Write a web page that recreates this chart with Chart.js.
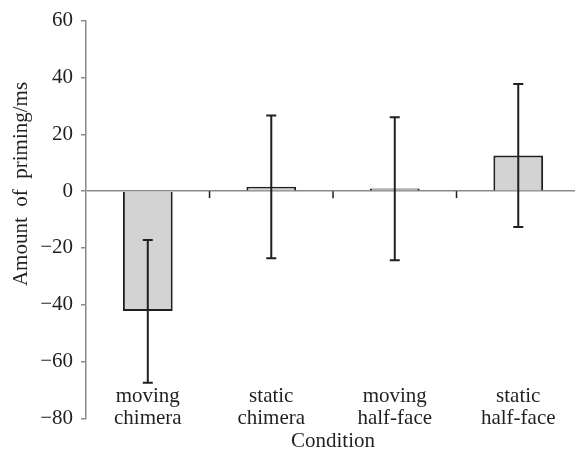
<!DOCTYPE html>
<html>
<head>
<meta charset="utf-8">
<script src="https://cdn.jsdelivr.net/npm/chart.js@4"></script>
<style>
  html, body { margin: 0; padding: 0; background: #fff; overflow: hidden; }
  #wrap { width: 575px; height: 453px; overflow: hidden; }
  #box { width: 582px; height: 453px; }
</style>
</head>
<body>
<div id="wrap"><div id="box"><canvas id="chart"></canvas></div></div>
<script>
// data
const conditions = [["moving", "chimera"], ["static", "chimera"], ["moving", "half-face"], ["static", "half-face"]];
const priming = [-42.2, 1.5, 0.9, 12.5];
const errLow = [-67.4, -23.6, -24.3, -12.6];
const errHigh = [-17.2, 26.6, 26.0, 37.7];
const yTicks = [-80, -60, -40, -20, 0, 20, 40, 60];

const FONT = "'Liberation Serif', 'DejaVu Serif', serif";
const AXIS_GREY = "#8a8a8a";
const INK = "#231f20";

// error bars + category tick marks on the zero line + rotated y title
const extras = {
    id: "extras",
    afterDatasetsDraw(chart) {
        const ctx = chart.ctx;
        const x = chart.scales.x;
        const y = chart.scales.y;
        const zero = y.getPixelForValue(0);

        ctx.save();

        // tick marks between categories
        ctx.strokeStyle = INK;
        ctx.lineWidth = 1.5;
        for (let i = 0; i < conditions.length - 1; i++) {
            const px = (x.getPixelForValue(i) + x.getPixelForValue(i + 1)) / 2;
            ctx.beginPath();
            ctx.moveTo(px, zero);
            ctx.lineTo(px, zero + 7);
            ctx.stroke();
        }

        // error bars
        ctx.strokeStyle = INK;
        ctx.lineWidth = 2;
        priming.forEach((v, i) => {
            const px = x.getPixelForValue(i);
            const lo = y.getPixelForValue(errLow[i]);
            const hi = y.getPixelForValue(errHigh[i]);
            ctx.beginPath();
            ctx.moveTo(px, lo);
            ctx.lineTo(px, hi);
            ctx.moveTo(px - 5, lo);
            ctx.lineTo(px + 5, lo);
            ctx.moveTo(px - 5, hi);
            ctx.lineTo(px + 5, hi);
            ctx.stroke();
        });

        // y axis title
        ctx.fillStyle = INK;
        ctx.font = "21px " + FONT;
        ctx.textAlign = "center";
        ctx.textBaseline = "middle";
        ctx.translate(21, 184);
        ctx.rotate(-Math.PI / 2);
        ctx.fillText("Amount  of  priming/ms", 0, 0);

        ctx.restore();
    }
};

new Chart(document.getElementById("chart"), {
    type: "bar",
    data: {
        labels: conditions,
        datasets: [{
            data: priming,
            backgroundColor: "#d3d3d3",
            borderColor: INK,
            borderWidth: 2,
            barPercentage: 0.403,
            categoryPercentage: 1
        }]
    },
    options: {
        responsive: true,
        maintainAspectRatio: false,
        animation: false,
        layout: {
            padding: { left: 32.2, right: 2, top: 18, bottom: 0 }
        },
        plugins: {
            legend: { display: false },
            tooltip: { enabled: false }
        },
        scales: {
            x: {
                grid: { display: false, drawTicks: false },
                border: { display: false },
                ticks: {
                    color: INK,
                    mirror: true,
                    padding: 11,
                    maxRotation: 0,
                    autoSkip: false,
                    font: { family: FONT, size: 21, lineHeight: "21.6px" }
                },
                title: {
                    display: true,
                    text: "Condition",
                    color: INK,
                    padding: { top: 0, bottom: 9.9 },
                    font: { family: FONT, size: 21, lineHeight: "2.6px" }
                }
            },
            y: {
                min: -80,
                max: 60,
                afterBuildTicks: scale => {
                    scale.ticks = yTicks.map(v => ({ value: v }));
                },
                grid: {
                    drawOnChartArea: true,
                    drawTicks: true,
                    tickLength: 5,
                    tickColor: AXIS_GREY,
                    tickWidth: 1.5,
                    lineWidth: 1.5,
                    color: c => (c.tick && c.tick.value === 0) ? AXIS_GREY : "rgba(0,0,0,0)"
                },
                border: { display: true, color: AXIS_GREY, width: 1.5 },
                ticks: {
                    color: INK,
                    padding: 8,
                    font: { family: FONT, size: 21 },
                    callback: v => (v < 0 ? "\u2212" + Math.abs(v) : String(v))
                }
            }
        }
    },
    plugins: [extras]
});
</script>
</body>
</html>
